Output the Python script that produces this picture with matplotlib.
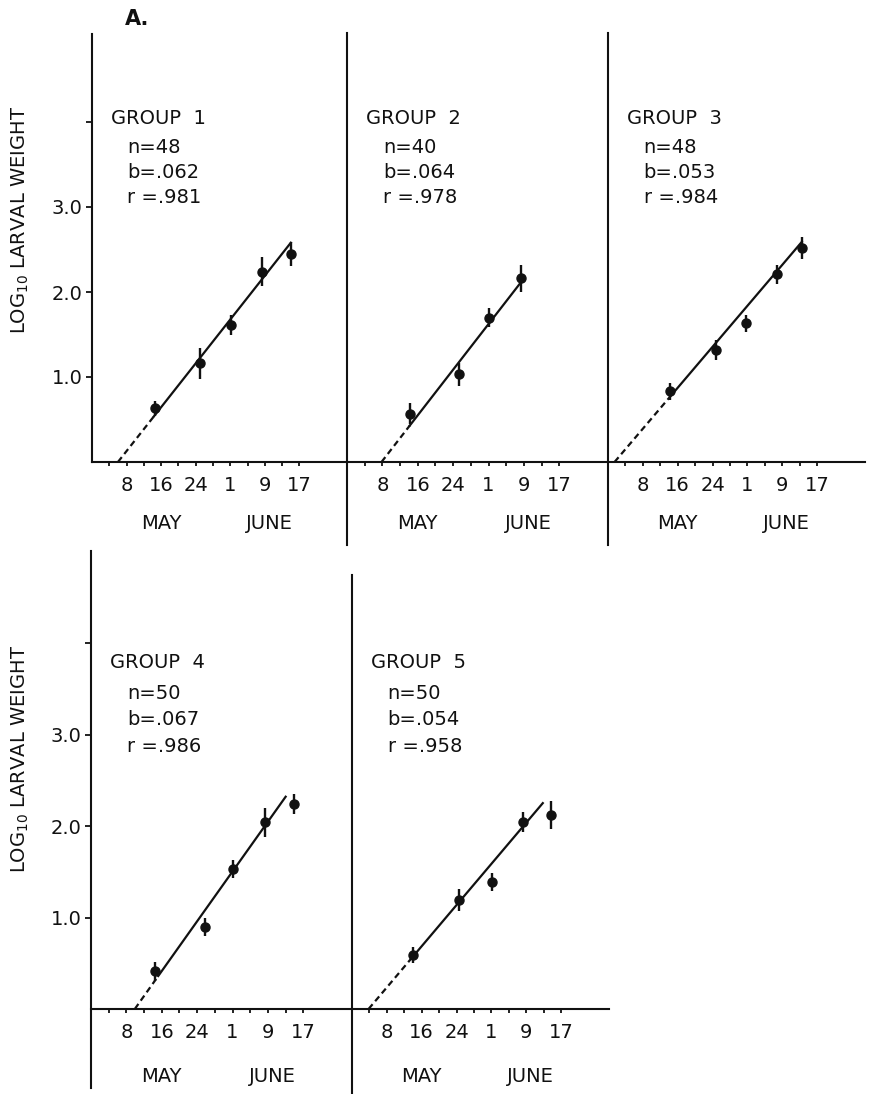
import matplotlib
matplotlib.use("Agg")
import matplotlib.pyplot as plt
import numpy as np

plt.rcParams['font.family'] = ['DejaVu Sans']

# ---------------- data ----------------
groups = ["GROUP  1", "GROUP  2", "GROUP  3", "GROUP  4", "GROUP  5"]
n_vals = ["48", "40", "48", "50", "50"]
b_vals = [".062", ".064", ".053", ".067", ".054"]
r_vals = [".981", ".978", ".984", ".986", ".958"]

# days counted from 1 May (June 1 = 32)
days_g1 = [14.6, 25.1, 32.1, 39.4, 46.0]
vals_g1 = [0.63, 1.16, 1.61, 2.24, 2.45]
err_g1 = [0.09, 0.18, 0.12, 0.17, 0.14]

days_g2 = [14.2, 25.4, 32.2, 39.4]
vals_g2 = [0.57, 1.03, 1.70, 2.16]
err_g2 = [0.12, 0.13, 0.11, 0.16]

days_g3 = [14.2, 24.9, 31.7, 38.8, 44.5]
vals_g3 = [0.83, 1.32, 1.63, 2.21, 2.52]
err_g3 = [0.10, 0.12, 0.10, 0.11, 0.13]

days_g4 = [14.4, 25.7, 32.2, 39.4, 45.8]
vals_g4 = [0.41, 0.90, 1.53, 2.04, 2.24]
err_g4 = [0.10, 0.10, 0.10, 0.16, 0.11]

days_g5 = [13.9, 24.5, 32.1, 39.2, 45.6]
vals_g5 = [0.59, 1.19, 1.39, 2.04, 2.12]
err_g5 = [0.09, 0.12, 0.10, 0.11, 0.15]

# regression lines: x-intercept day, start of solid part, end day, end value
line_x0 = [6.0, 7.8, 1.5, 9.9, 3.8]
line_xs = [14.3, 14.2, 14.3, 15.2, 13.7]
line_x1 = [46.0, 39.4, 44.5, 44.0, 43.8]
line_y1 = [2.58, 2.12, 2.59, 2.32, 2.25]

tick_days = [4, 8, 12, 16, 20, 24, 28, 32, 36, 40, 44, 48]
tick_labels = ["", "8", "", "16", "", "24", "", "1", "", "9", "", "17"]
month_names = ["MAY", "JUNE"]
month_days = [16, 41]
ytick_vals = [1, 2, 3, 4]
ytick_labels = ["1.0", "2.0", "3.0", ""]

all_days = [days_g1, days_g2, days_g3, days_g4, days_g5]
all_vals = [vals_g1, vals_g2, vals_g3, vals_g4, vals_g5]
all_errs = [err_g1, err_g2, err_g3, err_g4, err_g5]

# ---------------- layout (pixels) ----------------
W, H = 871, 1094
fig = plt.figure(figsize=(W / 100, H / 100), dpi=100)

YLO, YHI = -1.0, 5.05
XLO, XHI = 0, 59
# panel: left px, width px, zero-line px, px per unit, spine bottom, spine top, has y ticks
panels = [
    (92, 255, 462, 85.0, 0.0, 5.03, True),
    (347, 261, 462, 85.0, -0.98, 5.05, False),
    (608, 257, 462, 85.0, -0.98, 5.05, False),
    (91, 261, 1009, 91.5, -0.86, 5.01, True),
    (352, 257, 1009, 91.5, -0.95, 4.74, False),
]
text_y = {462: (4.04, 3.70, 3.40, 3.11), 1009: (3.79, 3.45, 3.16, 2.87)}
month_y = {462: -0.72, 1009: -0.74}

for i, (lpx, wpx, y0, ppu, sb, st, yt) in enumerate(panels):
    top_px = y0 - YHI * ppu
    bot_px = y0 - YLO * ppu
    ax = fig.add_axes([lpx / W, 1 - bot_px / H, wpx / W, (bot_px - top_px) / H])
    ax.set_xlim(XLO, XHI)
    ax.set_ylim(YLO, YHI)
    ax.patch.set_alpha(0)
    for s in ("top", "right"):
        ax.spines[s].set_visible(False)
    ax.spines["bottom"].set_position(("data", 0))
    ax.spines["left"].set_bounds(sb, st)
    for s in ("bottom", "left"):
        ax.spines[s].set_linewidth(1.5)
        ax.spines[s].set_color("#111111")

    ax.set_xticks(tick_days)
    ax.set_xticklabels(tick_labels)
    ax.tick_params(axis="x", direction="out", length=3, width=1.3, pad=7,
                   labelsize=14, colors="#111111")
    if yt:
        ax.set_yticks(ytick_vals)
        ax.set_yticklabels(ytick_labels)
        ax.tick_params(axis="y", direction="out", length=4, width=1.3, pad=3,
                       labelsize=14, colors="#111111")
    else:
        ax.set_yticks([])

    for md, mn in zip(month_days, month_names):
        ax.text(md, month_y[y0], mn, ha="center", va="center", fontsize=14,
                color="#111111", clip_on=False)

    # regression line
    slope = line_y1[i] / (line_x1[i] - line_x0[i])
    ys = slope * (line_xs[i] - line_x0[i])
    ax.plot([line_x0[i], line_xs[i]], [0, ys], color="#111111", lw=1.6,
            ls=(0, (2.8, 1.8)), solid_capstyle="butt", dash_capstyle="butt")
    ax.plot([line_xs[i], line_x1[i]], [ys, line_y1[i]], color="#111111", lw=1.6)

    # points
    ax.errorbar(all_days[i], all_vals[i], yerr=all_errs[i], fmt="o",
                color="#111111", ms=6.5, elinewidth=1.7, capsize=0)

    ty = text_y[y0]
    ax.text(4.3, ty[0], groups[i], fontsize=14, va="center", ha="left", color="#111111")
    ax.text(8.2, ty[1], "n=" + n_vals[i], fontsize=14, va="center", ha="left", color="#111111")
    ax.text(8.2, ty[2], "b=" + b_vals[i], fontsize=14, va="center", ha="left", color="#111111")
    ax.text(8.2, ty[3], "r =" + r_vals[i], fontsize=14, va="center", ha="left", color="#111111")

# y labels
for yc in (220, 759):
    fig.text(20 / W, 1 - yc / H, r"LOG$_{10}$ LARVAL WEIGHT", rotation=90,
             ha="center", va="center", fontsize=14, color="#111111")

fig.text(137 / W, 1 - 19 / H, "A.", ha="center", va="center", fontsize=15,
         fontweight="bold", color="#111111")

fig.savefig("out.png", dpi=100)
